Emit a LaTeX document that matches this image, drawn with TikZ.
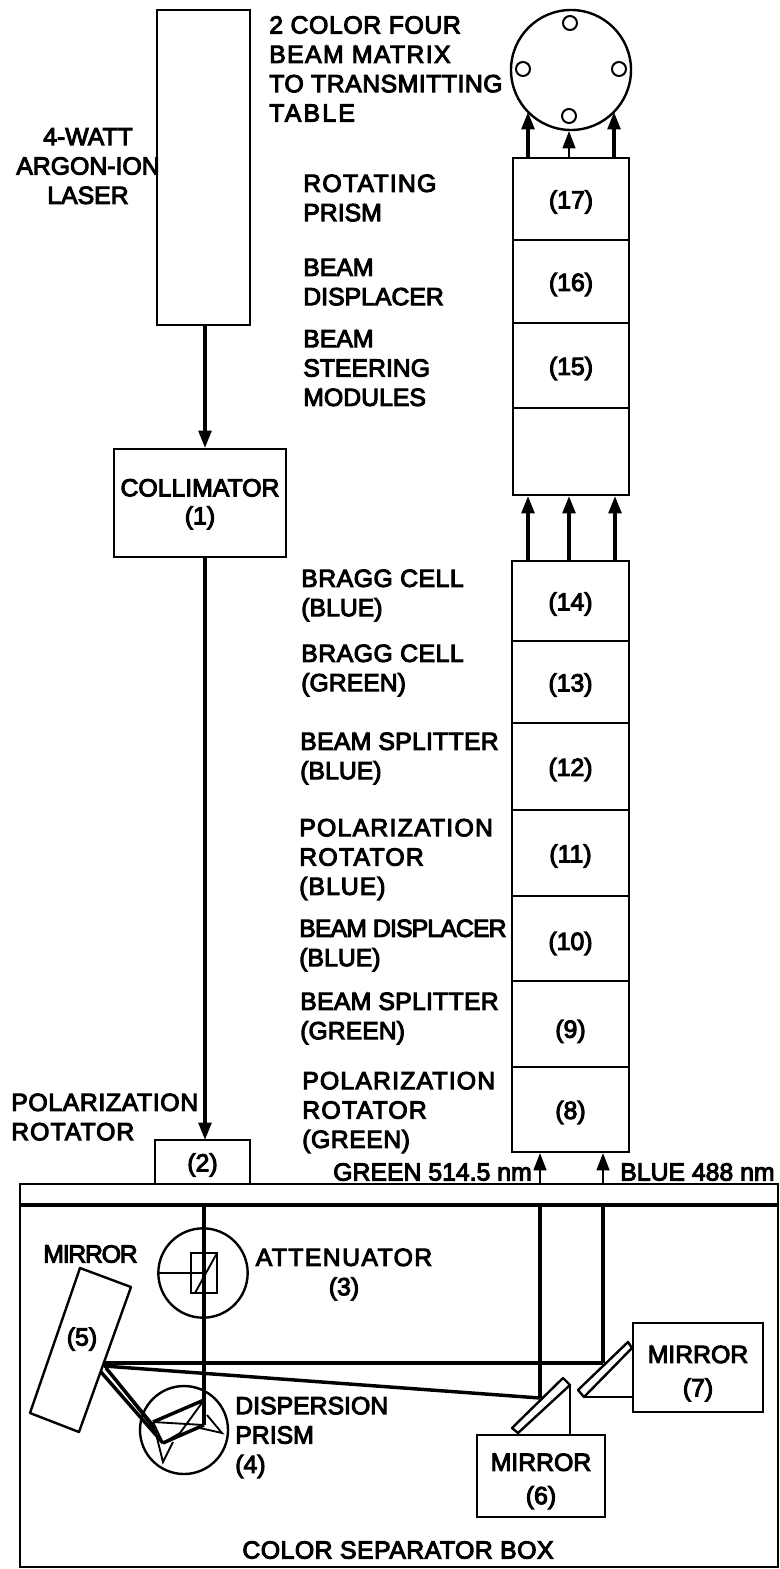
\documentclass[tikz,border=0pt]{standalone}
\usepackage{fontspec}
\setmainfont[FakeBold=4]{Liberation Sans}
\newcommand{\txtfont}{\fontsize{18.6}{22}\selectfont}
\newcommand{\ls}[2]{{\addfontfeature{LetterSpace=#1}#2}}
\usetikzlibrary{arrows.meta}
\tikzset{
  boxnode/.style={draw=black,line width=1.8pt,inner sep=0pt,align=center,font=\txtfont},
  lab/.style={inner sep=0pt,align=left,anchor=west,yshift=-2pt,font=\txtfont},
  clab/.style={inner sep=0pt,align=center,anchor=center,yshift=-2pt,font=\txtfont},
  beam/.style={line width=2.6pt,draw=black},
  thinbeam/.style={line width=1.4pt,draw=black},
  arr/.style={line width=2.6pt,-{Triangle[length=13pt,width=9.5pt]}},
  ring/.style={circle,draw=black,line width=1.8pt,inner sep=0pt},
  hole/.style={circle,draw=black,line width=1.5pt,inner sep=0pt,minimum size=10.5pt},
  plate/.style={draw=black,line width=1.8pt,fill=white,line join=round},
}
% name, x1, y1, x2, y2, text
\newcommand{\bx}[6]{\node[boxnode,minimum width={(#4-#2)*0.75pt},minimum height={(#5-#3)*0.75pt}] (#1) at ({(#2+#4)/2},{(#3+#5)/2}) {\rule{0pt}{18pt}#6};}
\newcommand{\lb}[4]{\node[lab] (#1) at (#2,#3) {\strut #4\strut};}
\newcommand{\cl}[4]{\node[clab] (#1) at (#2,#3) {\strut #4\strut};}
\begin{document}
\begin{tikzpicture}[x=0.75pt,y=-0.75pt]
\useasboundingbox (0,0) rectangle (779,1569);
\fill[white] (0,0) rectangle (779,1569);

% colour separator box
\draw[line width=2pt] (20,1184) rectangle (778,1567);
\coordinate (barL) at (20,1205);
\coordinate (barR) at (778,1205);
\draw[line width=2.8pt] (barL) -- (barR);

% boxes
\bx{laser}{157}{10}{250}{325}{}
\bx{coll}{114}{449}{286}{557}{COLLIMATOR\\[-1pt](1)\rule[-7pt]{0pt}{1pt}}
\bx{two}{155}{1140}{250}{1184}{(2)}
\bx{bxvii}{513}{158}{629}{240}{(17)}
\bx{bxvi}{513}{240}{629}{323}{(16)}
\bx{bxv}{513}{323}{629}{408}{(15)}
\bx{bxe}{513}{408}{629}{495}{}
\bx{bxiv}{512}{561}{629}{641}{(14)}
\bx{bxiii}{512}{641}{629}{723}{(13)}
\bx{bxii}{512}{723}{629}{810}{(12)}
\bx{bxi}{512}{810}{629}{896}{(11)}
\bx{bxx}{512}{896}{629}{981}{\rule{0pt}{21pt}(10)}
\bx{bxix}{512}{981}{629}{1067}{\rule{0pt}{24.5pt}(9)}
\bx{bxviii}{512}{1067}{629}{1152}{(8)}
\bx{msix}{477}{1435}{605}{1517}{\rule{0pt}{21pt}MIRROR\\[3pt](6)}
\bx{mseven}{633}{1323}{763}{1412}{\rule{0pt}{22pt}MIRROR\\[3pt](7)}

% table disc
\node[ring,minimum size=90pt] (disc) at (571,70) {};
\node[hole] (h1) at (570,23) {};
\node[hole] (h2) at (523,69) {};
\node[hole] (h3) at (619,69) {};
\node[hole] (h4) at (569,116) {};

% coordinates for the beams
\coordinate (a) at (205,325);
\coordinate (b) at (205,448);
\coordinate (c) at (205,557);
\coordinate (d) at (205,1140);
\coordinate (t1) at (528,158);\coordinate (t1e) at (528,112);
\coordinate (t2) at (569,158);\coordinate (t2e) at (569,131);
\coordinate (t3) at (614,158);\coordinate (t3e) at (614,112);
\coordinate (m1) at (528,561);\coordinate (m1e) at (528,496);
\coordinate (m2) at (569,561);\coordinate (m2e) at (569,496);
\coordinate (m3) at (615,561);\coordinate (m3e) at (615,496);
\coordinate (g0) at (540,1184);\coordinate (g1) at (540,1153);
\coordinate (l0) at (603,1184);\coordinate (l1) at (603,1153);
\coordinate (gb) at (540,1205);\coordinate (gh) at (540,1398);
\coordinate (lb) at (603,1205);\coordinate (lh) at (603,1363);
\coordinate (mh) at (104,1363);
\coordinate (mr) at (104,1366);
\coordinate (vb) at (204,1205);
\coordinate (vp) at (204,1400);
\coordinate (vq) at (204,1425);
\coordinate (pa) at (153,1422);
\coordinate (pb) at (163,1443);

\draw[arr] (a) -- (b);
\draw[arr] (c) -- (d);
\draw[arr] (t1) -- (t1e);
\draw[arr,line width=1.8pt] (t2) -- (t2e);
\draw[arr] (t3) -- (t3e);
\draw[arr] (m1) -- (m1e);
\draw[arr] (m2) -- (m2e);
\draw[arr] (m3) -- (m3e);
\draw[arr,line width=1.8pt] (g0) -- (g1);
\draw[arr,line width=1.8pt] (l0) -- (l1);

% interior beams
\draw[beam] (vb) -- (vp);
\draw[beam] (vp) -- (vq);
\draw[beam] (gb) -- (gh);
\draw[beam] (lb) -- (lh);
\draw[beam] (lh) -- (mh);
\draw[beam] (mr) -- (gh);

% attenuator
\node[ring,minimum size=67pt] (att) at (203,1273) {};
\coordinate (ab) at (158,1273);
\coordinate (ac) at (204,1273);
\draw[line width=1.8pt] (ab) -- (ac);
\draw[line width=2pt] (191,1253) rectangle (217,1293);
\coordinate (ad) at (217,1253);
\coordinate (ae) at (195,1293);
\draw[line width=1.4pt] (ad) -- (ae);

% mirror 5
\draw[plate] (80,1268) -- (131,1287) -- (79,1432) -- (30,1413) -- cycle;

% dispersion prism
\node[ring,minimum size=66pt] (prism) at (184,1430) {};
\draw[beam] (pa) -- (vp);
\draw[beam] (pb) -- (vq);
\draw[thinbeam] (pa) -- (vq);
\draw[thinbeam] (pa) -- (pb);
\draw[thinbeam] (vp) -- (180,1433) -- (pb);
\draw[thinbeam] (207,1415) -- (222,1433) -- (200,1428);
\draw[thinbeam] (157,1438) -- (163,1462) -- (173,1442);
\draw[beam] (101,1372) -- (pb);
\draw[thinbeam] (106,1368) -- (157,1433);
\draw[beam] (106,1368) -- (155,1428);

% mirrors 6 and 7
\draw[plate] (563,1378) -- (570,1385) -- (518,1433) -- (512,1428) -- cycle;
\coordinate (s1) at (570,1385);
\coordinate (s2) at (570,1435);
\draw[line width=1.4pt] (s1) -- (s2);
\draw[plate] (628,1342) -- (632,1348) -- (584,1397) -- (578,1390) -- cycle;
\coordinate (s3) at (584,1397);
\coordinate (s4) at (633,1397);
\draw[line width=1.4pt] (s3) -- (s4);

% labels
\lb{l1}{269}{69}{\ls{2.5}{2 COLOR FOUR}\\\ls{5.5}{BEAM MATRIX}\\\ls{2}{TO TRANSMITTING}\\\ls{9}{TABLE}}
\cl{l2}{88}{166}{4-WATT\\ARGON-ION\\LASER}
\lb{l3}{303}{198}{\ls{5}{ROTATING}\\PRISM}
\lb{l4}{303}{282}{BEAM\\DISPLACER}
\lb{l5}{303}{368}{BEAM\\STEERING\\MODULES}
\lb{l6}{301}{593}{\ls{2}{BRAGG CELL}\\(BLUE)}
\lb{l7}{301}{668}{\ls{2}{BRAGG CELL}\\(GREEN)}
\lb{l8}{300}{756}{\ls{1}{BEAM SPLITTER}\\(BLUE)}
\lb{l9}{299}{857}{\ls{5}{POLARIZATION}\\\ls{5}{ROTATOR}\\\ls{4}{(BLUE)}}
\lb{l10}{299}{943}{\ls{-3.5}{BEAM DISPLACER}\\(BLUE)}
\lb{l11}{300}{1016}{\ls{1}{BEAM SPLITTER}\\(GREEN)}
\lb{l12}{302}{1110}{\ls{4.7}{POLARIZATION}\\\ls{5}{ROTATOR}\\\ls{2}{(GREEN)}}
\lb{l13}{11}{1117}{\ls{2.5}{POLARIZATION}\\\ls{4}{ROTATOR}}
\lb{l14}{333}{1172}{GREEN 514.5 nm}
\lb{l15}{620}{1172}{BLUE 488 nm}
\lb{l16}{43}{1254}{\ls{-5}{MIRROR}}
\cl{l17}{344}{1272}{\ls{5.6}{ATTENUATOR}\\(3)}
\cl{l18}{82}{1337}{(5)}
\lb{l19}{235}{1435}{DISPERSION\\PRISM\\(4)}
\cl{l20}{398}{1550}{\ls{2}{COLOR SEPARATOR BOX}}
\end{tikzpicture}
\end{document}
